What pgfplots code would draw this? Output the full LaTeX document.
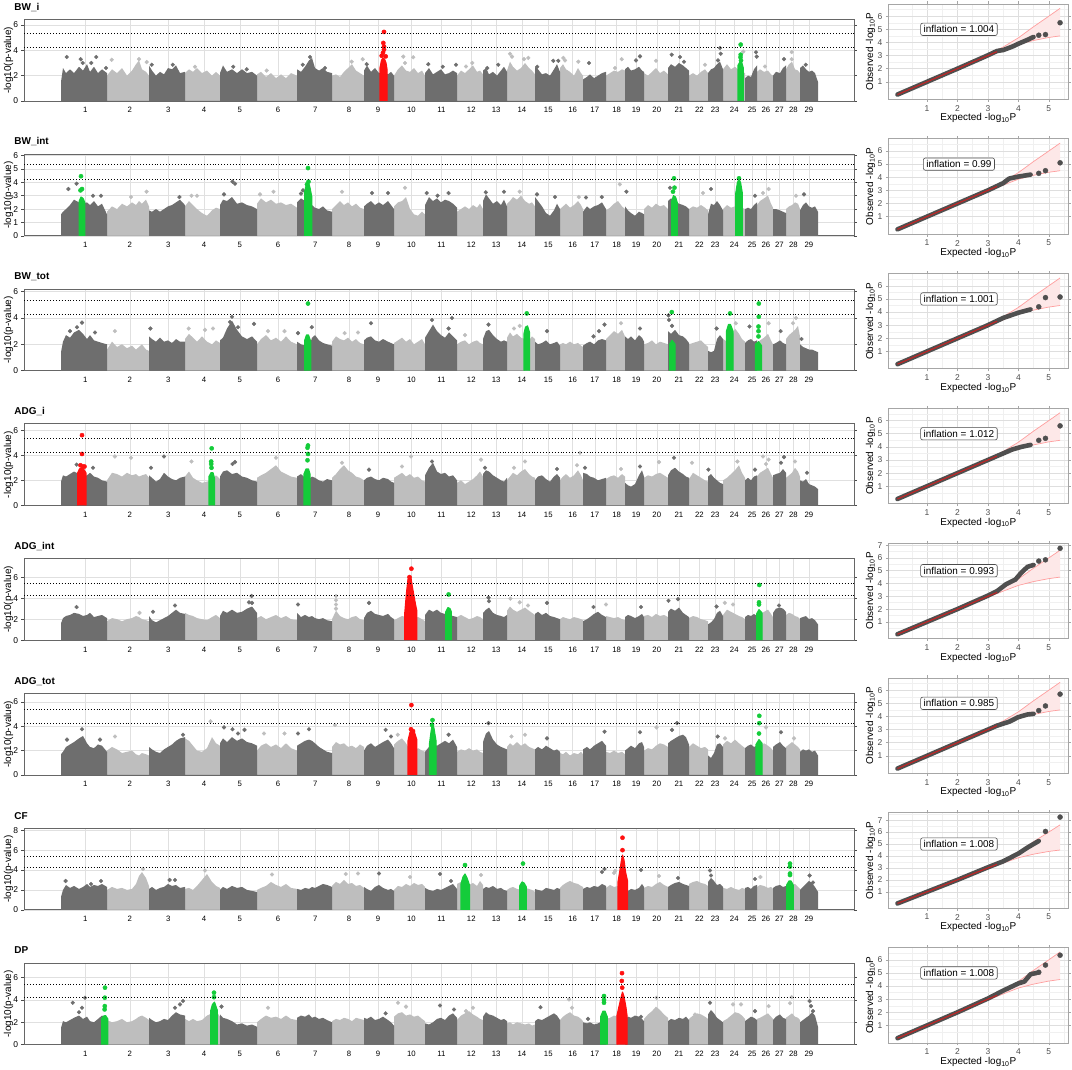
\documentclass[border=0pt]{standalone}
\usepackage{fontspec}
\setmainfont{Liberation Sans}
\usepackage{pgfplots}
\usepackage{pgfplotstable}
\pgfplotsset{compat=1.18}
\definecolor{dg}{HTML}{6E6E6E}
\definecolor{lg}{HTML}{BEBEBE}
\definecolor{hr}{HTML}{FF1010}
\definecolor{hg}{HTML}{14CC3A}
\definecolor{qpt}{HTML}{4F4F4F}
\definecolor{qred}{HTML}{C42424}
\definecolor{bandc}{HTML}{FF9E9E}
\definecolor{bandfill}{HTML}{FDE8E8}

\pgfplotstableread{
x p1 p2 p3 p4 p5 p6 p7 p8
61 0 0 0 0 0 0 0 0
61 1.5 1.6 1.4 1.9 1.6 1.7 1.3 1.5
63 2.6 1.8 2.2 2.4 2.1 1.9 2.0 2.1
66 2.2 2.0 2.7 2.3 2.3 2.3 2.5 2.0
70 2.5 2.3 2.5 2.5 2.4 2.5 2.2 2.2
74 2.2 2.7 2.9 2.7 2.6 2.7 2.4 2.4
79 2.7 2.5 3.1 2.5 2.5 3.0 2.1 2.6
83 2.4 2.4 2.8 2.3 2.3 3.2 2.3 2.3
87 2.9 2.5 2.4 2.4 2.4 2.6 2.6 2.5
90 2.3 2.3 2.7 2.6 2.6 2.3 2.3 2.1
94 2.7 2.6 2.3 2.3 2.2 2.2 2.5 2.0
98 2.2 2.2 2.2 2.2 2.3 2.5 2.4 2.3
102 2.5 2.4 2.1 2.0 2.4 2.4 2.6 2.6
107 2.2 1.6 2.0 1.9 2.1 1.9 2.3 2.4
107 0 0 0 0 0 0 0 0
149 0 0 0 0 0 0 0 0
149 2.8 1.9 2.6 2.4 2.3 2.3 2.1 2.4
152 2.4 1.8 2.4 2.2 1.9 2.1 2.3 2.2
156 2.0 2.0 2.2 1.9 1.7 1.9 2.0 2.0
160 2.3 1.8 2.5 2.1 1.9 1.8 2.2 2.1
164 2.1 2.0 2.2 2.6 2.1 2.1 2.3 2.3
168 2.6 2.2 2.3 2.3 2.3 2.3 2.6 2.2
172 2.5 2.3 2.1 2.1 2.6 2.5 2.4 2.6
176 2.8 2.5 2.4 2.0 2.9 2.8 2.5 2.9
180 2.2 2.7 2.2 2.2 2.6 3.0 2.2 2.7
185 2.3 2.3 2.2 2.3 2.5 3.1 2.3 2.6
185 0 0 0 0 0 0 0 0
220 0 0 0 0 0 0 0 0
220 2.2 2.3 2.3 2.3 2.3 2.6 2.0 2.7
223 2.8 2.7 2.5 2.7 2.8 3.0 2.3 2.4
227 2.3 2.6 3.2 2.8 2.6 2.7 2.1 2.3
232 2.5 2.9 3.8 2.5 2.9 3.1 2.4 2.1
237 2.2 2.4 3.1 2.6 2.6 2.8 2.2 1.8
242 2.5 2.5 2.6 2.3 2.7 3.0 2.3 1.9
247 2.2 2.3 2.4 2.2 3.0 2.7 2.0 1.7
252 2.3 2.2 2.6 2.0 3.2 2.6 1.9 1.8
257 2.0 2.0 2.2 1.9 2.6 2.4 1.8 1.6
257 0 0 0 0 0 0 0 0
297 0 0 0 0 0 0 0 0
297 2.5 2.5 2.2 2.3 2.6 2.4 2.1 2.4
301 2.3 2.8 2.0 2.5 2.2 2.6 2.0 2.6
305 2.7 2.6 1.9 2.2 2.4 2.8 2.2 2.5
309 3.2 2.2 1.8 2.1 2.2 2.9 2.1 2.7
312 3.4 2.3 2.5 2.3 2.3 2.8 2.3 2.4
315 2.6 2.1 2.7 2.2 2.1 2.6 2.2 2.5
319 2.4 2.0 2.3 2.0 2.0 2.3 2.4 2.3
323 2.6 2.2 2.1 1.9 2.1 2.1 2.6 2.4
327 2.3 1.9 2.0 2.1 1.9 1.9 2.5 2.2
332 2.2 1.8 1.9 2.0 1.8 1.8 2.3 2.0
332 0 0 0 0 0 0 0 0
364 0 0 0 0 0 0 0 0
364 2.4 2.2 2.3 2.0 2.1 2.0 2.3 2.4
367 2.8 2.4 2.5 2.2 2.6 2.4 2.1 2.3
371 2.3 2.6 2.6 2.3 2.8 2.6 1.9 2.5
375 2.6 2.3 2.3 2.1 2.5 2.3 2.3 2.2
379 2.2 2.5 2.2 2.0 2.4 2.5 2.5 2.3
383 2.3 2.3 2.4 2.2 2.3 2.7 2.2 2.5
388 2.1 2.6 2.2 2.1 2.5 2.9 2.0 2.2
391 2.3 2.3 2.1 1.9 2.2 2.6 2.1 2.0
394 2.0 2.0 2.0 1.8 2.0 2.2 1.9 1.7
394 0 0 0 0 0 0 0 0
425 0 0 0 0 0 0 0 0
425 2.2 2.3 2.5 2.4 2.4 1.9 2.2 1.9
429 2.6 2.9 3.0 3.0 2.9 2.3 2.0 1.8
433 2.1 2.6 3.5 3.4 2.7 2.5 1.9 2.0
437 2.3 2.8 3.0 2.7 2.9 2.4 2.1 2.3
441 2.5 2.5 2.7 2.5 2.6 2.6 2.0 2.4
445 2.1 2.7 2.5 2.6 2.5 2.8 2.2 2.2
449 2.2 2.6 2.9 2.3 2.4 2.6 2.4 2.6
453 2.4 2.4 2.6 2.4 2.3 2.9 2.6 2.8
457 2.2 2.1 2.3 2.0 2.2 2.3 2.1 2.4
457 0 0 0 0 0 0 0 0
483 0 0 0 0 0 0 0 0
483 2.4 2.6 2.4 2.5 2.6 2.7 2.1 2.5
486 2.6 3.1 3.0 2.8 2.9 3.4 2.3 2.9
489 2.1 2.8 3.1 2.7 3.1 3.6 2.2 2.7
493 2.3 2.4 2.7 2.4 2.6 2.9 2.4 2.6
497 2.0 2.6 2.4 2.2 2.4 2.5 2.1 2.4
501 2.4 2.3 2.2 2.0 2.3 2.3 2.2 2.2
504 2.7 2.7 2.3 1.9 2.2 2.2 2.0 2.3
507 2.3 2.2 2.2 2.2 2.4 2.1 1.9 2.1
507 0 0 0 0 0 0 0 0
535 0 0 0 0 0 0 0 0
535 2.7 2.9 2.2 2.0 2.5 2.1 2.1 2.1
538 2.5 2.6 2.0 2.3 2.7 2.3 2.0 2.3
542 2.1 2.2 2.1 2.4 2.4 2.1 1.9 2.2
546 2.2 1.7 2.3 2.1 2.6 2.4 2.2 2.4
550 2.0 1.5 2.0 1.9 2.3 2.2 2.1 2.6
554 2.5 1.9 2.1 2.3 2.2 2.0 2.0 2.8
557 2.9 2.4 2.2 2.5 2.1 2.1 2.2 2.6
560 2.3 2.0 1.9 2.2 2.0 1.9 2.1 2.2
560 0 0 0 0 0 0 0 0
583 0 0 0 0 0 0 0 0
583 1.7 1.8 1.9 2.6 1.8 2.1 2.1 2.0
587 1.9 2.2 2.1 2.5 2.0 2.3 2.3 1.9
590 2.1 2.0 2.2 2.3 2.2 2.1 2.2 2.0
594 1.8 2.2 2.0 2.2 2.5 2.4 2.4 1.8
598 2.0 2.3 2.3 2.0 2.7 2.6 2.3 1.9
602 2.2 2.5 2.4 2.1 2.4 2.8 2.6 2.1
606 2.3 2.0 2.3 2.2 2.2 2.4 2.4 2.2
606 0 0 0 0 0 0 0 0
625 0 0 0 0 0 0 0 0
625 2.5 2.2 2.6 1.8 2.2 2.0 2.0 2.2
628 2.7 1.9 2.4 1.6 2.4 2.2 1.9 2.5
631 2.4 1.7 2.6 1.5 2.3 2.4 2.1 2.4
635 2.5 1.5 2.3 1.7 2.1 2.2 2.0 2.6
639 2.7 1.8 2.7 2.4 2.3 2.6 2.2 2.5
642 2.4 1.7 2.5 2.8 2.5 2.7 2.6 2.3
644 2.3 1.6 2.2 2.3 2.2 2.3 2.3 2.1
644 0 0 0 0 0 0 0 0
668 0 0 0 0 0 0 0 0
668 2.6 2.6 3.0 2.4 2.7 2.6 2.3 2.1
671 2.9 2.8 2.8 2.8 3.0 2.8 2.5 2.3
675 2.7 2.6 3.1 3.0 2.8 3.0 2.7 2.2
679 3.0 2.4 2.7 2.7 3.1 3.2 2.8 2.4
683 2.8 2.3 2.6 2.5 2.6 3.3 2.6 2.3
686 2.6 2.2 2.4 2.3 2.4 3.1 2.5 2.5
689 2.4 2.0 2.1 2.2 2.2 2.5 2.4 2.2
689 0 0 0 0 0 0 0 0
708 0 0 0 0 0 0 0 0
708 2.2 1.6 1.5 2.3 1.5 1.6 2.8 2.7
711 2.5 2.4 1.4 2.5 1.7 1.4 3.2 3.1
714 2.6 2.3 1.5 2.2 2.0 1.8 2.9 2.8
717 2.9 2.6 2.4 2.0 2.6 2.5 2.5 2.4
720 3.1 2.3 2.7 1.8 2.8 2.6 2.6 2.2
723 2.5 1.9 2.4 1.7 2.3 2.3 2.3 2.0
723 0 0 0 0 0 0 0 0
745 0 0 0 0 0 0 0 0
745 1.8 2.0 2.1 2.0 2.2 2.2 2.2 2.1
748 2.0 2.1 2.3 2.2 2.4 2.4 2.3 2.3
751 1.9 2.0 2.4 2.0 2.3 2.5 2.1 2.5
754 2.5 2.3 2.2 2.3 2.5 2.3 2.4 2.4
757 2.8 2.5 2.3 2.4 2.3 2.4 2.5 2.2
757 0 0 0 0 0 0 0 0
773 0 0 0 0 0 0 0 0
773 2.0 2.0 2.0 2.4 2.6 2.3 2.2 2.2
776 2.3 2.0 2.1 2.5 3.0 2.5 2.4 2.5
780 2.2 1.9 2.3 2.6 3.1 2.7 2.5 2.7
783 2.6 1.8 2.1 2.9 3.0 2.4 2.3 2.4
786 2.8 1.7 2.0 2.6 2.7 2.2 2.4 2.3
786 0 0 0 0 0 0 0 0
800 0 0 0 0 0 0 0 0
800 2.6 1.9 2.0 2.0 2.1 1.9 2.0 2.0
803 2.8 2.3 1.8 1.9 2.2 2.1 2.3 2.2
806 2.5 2.5 1.7 2.1 2.3 2.0 2.6 2.4
809 2.3 2.2 1.6 1.7 2.0 2.1 2.9 2.6
812 2.4 2.1 1.6 1.6 2.1 1.9 2.7 2.9
815 2.2 2.2 1.5 1.5 1.9 2.0 2.3 2.6
818 1.5 1.8 1.4 1.3 1.5 1.6 1.8 1.6
818 0 0 0 0 0 0 0 0
}\dark

\pgfplotstableread{
x p1 p2 p3 p4 p5 p6 p7 p8
107 0 0 0 0 0 0 0 0
107 2.0 1.8 1.6 2.0 1.8 2.0 2.0 2.2
112 2.5 2.2 2.2 2.6 2.1 2.3 2.3 2.0
117 2.2 2.0 1.8 2.5 2.0 2.1 2.1 2.1
122 2.6 2.4 2.0 2.3 1.8 1.8 2.2 2.3
127 2.0 2.2 1.7 2.6 2.0 1.9 2.0 2.0
132 2.4 2.5 1.9 2.4 2.1 2.0 2.1 2.1
136 2.9 2.3 1.6 2.5 2.3 1.7 2.6 2.3
139 3.2 2.6 1.8 2.3 2.2 1.6 3.4 2.5
142 2.5 2.4 2.0 2.4 2.0 1.8 3.8 2.6
146 2.3 2.7 1.6 2.5 1.9 1.7 3.2 2.4
149 2.0 2.2 1.5 2.2 1.8 1.6 2.4 2.2
149 0 0 0 0 0 0 0 0
185 0 0 0 0 0 0 0 0
185 2.2 2.2 2.4 2.3 2.6 3.0 2.1 2.3
189 2.5 2.6 2.8 2.7 2.4 2.8 2.2 2.1
193 2.3 2.3 2.5 2.2 2.3 2.4 2.0 2.3
197 2.6 2.0 2.2 2.0 2.1 2.0 2.4 2.1
202 2.2 1.7 2.6 1.8 2.0 1.9 3.0 2.2
207 2.4 1.5 2.2 1.9 1.9 2.2 3.6 2.6
212 2.0 1.9 2.0 2.0 2.2 3.1 2.8 2.8
216 2.3 2.1 2.3 2.4 2.4 2.6 2.4 3.0
220 2.0 2.0 2.1 2.1 2.1 2.4 2.2 2.5
220 0 0 0 0 0 0 0 0
257 0 0 0 0 0 0 0 0
257 2.1 2.4 2.0 2.2 2.1 2.0 2.0 2.0
261 2.3 2.8 2.4 2.4 2.3 2.4 2.2 2.3
266 1.9 2.5 2.7 2.6 2.0 2.6 2.4 2.6
271 2.2 2.7 2.3 2.9 2.2 2.3 2.8 2.4
276 1.8 2.4 2.5 3.2 2.4 2.5 2.5 2.5
281 2.1 2.5 2.2 2.7 2.1 2.2 2.3 2.3
286 1.8 2.3 2.6 2.5 2.3 2.6 2.6 2.6
291 2.2 2.4 2.2 2.3 2.0 2.2 2.2 2.3
297 2.0 2.1 2.0 2.2 1.9 2.0 2.1 2.2
297 0 0 0 0 0 0 0 0
332 0 0 0 0 0 0 0 0
332 2.0 2.0 2.2 2.2 2.0 2.3 2.4 2.1
336 2.1 2.3 2.6 2.5 2.8 2.7 2.8 2.3
340 1.9 2.6 2.4 2.9 2.3 2.5 2.6 2.2
344 2.3 2.3 2.3 3.2 2.1 2.6 3.0 2.4
348 2.6 2.5 2.5 2.8 2.0 2.3 2.6 2.3
352 2.9 2.2 2.2 2.6 2.2 2.4 2.7 2.1
356 2.4 2.4 2.4 2.3 2.3 2.2 2.4 2.4
360 2.2 2.1 2.1 2.2 2.0 2.5 2.5 2.3
364 2.0 2.0 2.0 2.0 1.9 2.3 2.2 2.2
364 0 0 0 0 0 0 0 0
394 0 0 0 0 0 0 0 0
394 2.0 2.2 2.1 2.2 1.9 2.5 2.0 2.5
398 2.5 2.5 2.3 2.4 2.1 2.8 2.4 2.8
402 2.8 2.6 2.5 2.6 2.3 3.0 2.3 2.9
406 2.4 2.9 2.2 2.3 2.2 2.6 2.6 2.6
410 2.3 2.0 2.4 2.5 2.0 2.0 2.4 2.7
414 2.6 1.6 2.0 2.2 2.1 1.9 2.7 2.5
418 2.2 1.5 2.2 2.3 2.2 2.2 2.5 2.6
422 2.4 1.8 2.4 2.0 2.0 2.0 2.6 2.3
425 2.0 1.6 2.0 1.9 1.8 1.9 2.3 2.1
425 0 0 0 0 0 0 0 0
457 0 0 0 0 0 0 0 0
457 2.0 1.8 2.0 1.8 2.2 1.9 2.6 2.2
461 2.4 2.0 2.2 2.0 2.4 2.1 2.8 2.6
465 2.2 2.2 2.3 1.7 2.2 2.0 2.7 2.8
469 2.5 2.0 2.0 1.9 2.0 2.2 2.5 3.0
473 2.8 2.3 2.2 2.1 2.1 2.0 2.7 2.7
477 2.3 2.1 2.3 2.4 2.3 2.1 2.4 2.5
480 2.4 2.4 2.1 2.7 2.2 1.9 2.9 2.3
483 2.1 2.0 2.0 2.3 2.0 1.8 2.5 2.2
483 0 0 0 0 0 0 0 0
507 0 0 0 0 0 0 0 0
507 2.4 2.4 2.5 2.0 2.8 2.3 2.0 1.9
510 3.1 2.6 2.9 2.3 3.2 2.6 2.2 2.0
513 2.7 2.9 2.6 2.6 2.9 2.4 2.3 1.8
517 2.4 2.7 2.8 2.4 2.7 2.7 2.1 2.0
521 2.6 3.0 2.5 2.7 2.9 2.4 2.0 1.9
525 3.0 2.6 2.4 2.9 3.1 2.6 2.2 1.8
529 2.6 2.4 2.3 2.5 2.8 2.3 2.1 1.9
532 2.4 2.5 2.6 2.3 2.6 2.2 2.0 1.7
535 2.1 2.2 2.4 2.2 2.4 2.1 1.8 1.8
535 0 0 0 0 0 0 0 0
560 0 0 0 0 0 0 0 0
560 2.6 2.0 2.0 2.0 2.0 1.8 2.2 2.2
563 2.9 2.2 2.1 2.3 2.2 1.7 2.5 2.5
566 2.5 2.4 2.0 2.5 2.1 1.9 2.7 2.7
570 2.3 2.1 2.2 2.2 2.0 1.6 2.9 2.9
574 2.0 2.3 2.0 2.4 2.2 1.8 2.7 2.6
578 2.6 2.6 2.1 2.8 2.1 1.7 2.6 2.5
581 2.2 2.3 1.9 2.4 2.0 1.9 2.4 2.3
583 2.0 2.0 1.8 2.0 1.9 1.7 2.3 2.1
583 0 0 0 0 0 0 0 0
606 0 0 0 0 0 0 0 0
606 2.0 1.9 2.4 2.1 2.3 1.9 2.2 2.3
610 2.2 2.1 2.7 2.3 2.2 1.8 2.5 2.4
614 2.4 2.4 3.0 2.4 2.1 2.0 2.3 2.6
618 2.3 2.6 2.8 2.2 2.2 1.8 2.4 2.5
622 2.5 2.2 3.1 2.5 2.0 1.9 2.5 2.4
625 2.4 2.0 2.6 2.3 1.9 1.7 2.4 2.3
625 0 0 0 0 0 0 0 0
644 0 0 0 0 0 0 0 0
644 2.2 2.0 2.0 2.2 2.3 2.0 2.2 2.3
648 2.0 2.3 2.1 2.4 2.4 2.2 2.4 2.7
652 2.3 2.1 2.3 2.3 2.2 2.1 2.3 3.0
656 2.6 2.4 2.0 2.5 2.5 2.4 2.6 3.4
660 2.2 2.2 2.2 2.6 2.3 2.6 2.8 3.1
664 2.4 2.3 2.1 2.4 2.4 2.5 2.5 2.7
668 2.1 2.0 2.0 2.2 2.2 2.3 2.3 2.4
668 0 0 0 0 0 0 0 0
689 0 0 0 0 0 0 0 0
689 2.0 2.0 2.0 2.1 2.1 2.3 2.6 2.3
693 2.2 2.2 2.1 2.6 2.3 2.6 2.8 2.6
697 2.0 2.1 2.2 2.4 2.2 2.4 2.9 2.8
701 2.3 2.3 2.3 2.2 2.0 2.2 2.7 2.7
705 2.5 2.1 2.0 2.0 1.9 2.3 2.6 2.5
708 2.2 1.9 1.8 1.9 1.8 2.1 2.4 2.3
708 0 0 0 0 0 0 0 0
723 0 0 0 0 0 0 0 0
723 2.5 2.0 2.4 2.0 2.4 2.5 2.2 2.1
727 2.9 2.3 2.2 2.2 2.9 2.8 2.1 2.3
731 2.5 2.1 2.3 2.5 2.7 2.6 2.3 2.6
735 2.7 2.2 3.2 2.8 2.5 2.9 2.1 2.9
739 2.4 2.4 2.8 3.2 2.3 2.6 2.0 2.8
742 2.3 2.1 2.4 2.6 2.2 2.4 2.2 2.6
745 2.2 2.0 2.2 2.2 2.0 2.2 2.1 2.3
745 0 0 0 0 0 0 0 0
757 0 0 0 0 0 0 0 0
757 2.3 2.3 2.0 2.3 2.2 2.2 2.3 2.3
760 2.5 2.6 2.3 2.6 2.4 2.3 2.5 2.4
764 2.3 2.8 2.5 2.8 2.7 2.6 2.4 2.6
768 2.4 3.0 2.8 3.0 2.9 2.4 2.2 2.8
771 2.1 2.4 2.3 2.5 2.5 2.2 2.3 2.5
773 2.0 2.1 2.0 2.2 2.2 2.0 2.1 2.3
773 0 0 0 0 0 0 0 0
786 0 0 0 0 0 0 0 0
786 2.5 2.0 2.4 2.2 2.4 2.3 2.3 2.4
789 2.9 2.2 2.7 2.4 2.6 2.5 2.4 2.6
792 3.1 2.3 2.9 2.6 2.5 2.7 2.5 2.8
795 2.5 2.5 3.1 3.0 2.3 2.5 2.6 2.5
798 2.4 2.4 3.4 2.7 2.2 2.3 2.3 2.4
800 2.2 2.0 2.6 2.3 2.0 2.1 2.1 2.2
800 0 0 0 0 0 0 0 0
}\light

\pgfplotstableread{
x y
0 0
1 1
2 2.02
3 3.08
3.5 3.65
4 4.35
4.5 5.2
5 6.0
5.37 6.6
5.37 4.5
5 4.38
4.5 4.15
4 3.85
3.5 3.4
3 2.92
2 1.98
1 1
}\bandpoly

\pgfplotstableread{
x up lo
0 0 0
1 1 1
2 2.02 1.98
3 3.08 2.92
3.5 3.65 3.4
4 4.35 3.85
4.5 5.2 4.15
5 6.0 4.38
5.37 6.6 4.5
}\bandlines

\pgfplotsset{
  manh/.style={
    scale only axis, width=830bp, height=81.5bp, anchor=south west,
    xmin=24, xmax=854, ymin=0, clip mode=individual,
    xtick={85.3,129.8,168.3,204,239.8,278,315.3,349,378,411.4,441.5,471.3,496.2,522,548.3,572.7,594.8,616.6,636.2,656.8,679,699.4,715.2,734.3,752.2,766,779.5,793.5,809},
    xticklabels={1,2,3,4,5,6,7,8,9,10,11,12,13,14,15,16,17,18,19,20,21,22,23,24,25,26,27,28,29},
    xtick style={draw=none},
    xticklabel style={font=\fontsize{7.8}{8}\selectfont, yshift=-0.5bp},
    yticklabel style={font=\fontsize{8.5}{9}\selectfont},
    tick align=outside, major tick length=2.5bp,
    ytick style={color=black!70, line width=0.5bp},
    grid=major, major grid style={color=black!12, line width=0.5bp},
    axis line style={color=black!60, line width=0.9bp},
    ylabel={-log10(p-value)},
    ylabel style={at={(axis description cs:-0.0187,0.5)}, anchor=center, font=\fontsize{10}{11}\selectfont},
    /pgf/number format/assume math mode=true,
  },
  qq/.style={
    scale only axis, width=180bp, height=95.3bp, anchor=south west,
    xmin=-0.27, xmax=5.64, clip mode=individual,
    xtick={1,2,3,4,5}, ytick={1,2,3,4,5,6,7},
    minor xtick={0.5,1.5,2.5,3.5,4.5,5.5}, minor ytick={0.5,1.5,2.5,3.5,4.5,5.5,6.5,7.5},
    grid=both, major grid style={color=black!13, line width=0.5bp},
    minor grid style={color=black!6, line width=0.4bp},
    axis line style={color=black!35, line width=0.8bp},
    tick align=outside, major tick length=2.5bp, minor tick length=0bp,
    tick style={color=black!35, line width=0.5bp},
    ticklabel style={font=\fontsize{8.5}{9}\selectfont, color=black!70},
    xlabel={Expected -log\textsubscript{10}P}, ylabel={Observed -log\textsubscript{10}P},
    label style={font=\fontsize{10}{11}\selectfont},
    xlabel style={at={(axis description cs:0.5,-0.2)}, anchor=center},
    ylabel style={at={(axis description cs:-0.098,0.5)}, anchor=center},
    /pgf/number format/assume math mode=true,
  },
  dk/.style={only marks, mark=*, mark size=1.9bp, color=dg},
  lt/.style={only marks, mark=*, mark size=1.9bp, color=lg},
  rd/.style={only marks, mark=*, mark size=2.1bp, color=hr},
  gn/.style={only marks, mark=*, mark size=2.1bp, color=hg},
  rdp/.style={fill=hr, draw=hr, line width=1.2bp, line join=round},
  gnp/.style={fill=hg, draw=hg, line width=1.2bp, line join=round},
  thr/.style={color=black, line width=0.8bp, dash pattern=on 0.9bp off 2bp},
  qline/.style={color=qpt, line width=4.6bp, line cap=round, line join=round},
  qpts/.style={only marks, mark=*, mark size=2.5bp, color=qpt},
  qr/.style={color=qred, line width=1.1bp},
}
\newcommand{\mtitle}[1]{\node[anchor=base west, font=\bfseries\fontsize{10}{12}\selectfont] at (axis description cs:-0.0157,1.114) {#1};}
\newcommand{\bands}{%
  \addplot[fill=bandfill, draw=none] table[x=x,y=y]{\bandpoly};
  \addplot[color=bandc, line width=0.7bp] table[x=x,y=up]{\bandlines};
  \addplot[color=bandc, line width=0.7bp] table[x=x,y=lo]{\bandlines};}
\newcommand{\infl}[1]{\node[draw=black!70, fill=white, rounded corners=2bp, inner xsep=3bp, inner ysep=2.5bp, line width=0.6bp, font=\fontsize{10}{11}\selectfont] at (axis cs:2.05,5) {#1};}
\newcommand{\thresh}{%
  \addplot[thr] coordinates {(24,5.36) (854,5.36)};
  \addplot[thr] coordinates {(24,4.24) (854,4.24)};}

\begin{document}
\begin{tikzpicture}
\useasboundingbox (0bp,0bp) rectangle (1072bp,1070bp);

% ---------------- Panel 1: BW_i
\begin{axis}[manh, at={(24bp,969bp)}, ymax=6.43, ytick={0,2,4,6}]
\addplot[fill=lg, draw=none] table[x=x,y=p1]{\light};
\addplot[fill=dg, draw=none] table[x=x,y=p1]{\dark};
\addplot[dk] coordinates {(66.7,3.47)(80.7,3.3)(82.7,3.0)(91.3,3.0)(96.3,3.47)(106,2.6)(151.7,2.86)(172.7,2.86)(233.3,2.7)(246.7,2.5)(302.7,2.86)(310,3.47)(325,2.6)(366.7,2.9)(428.3,2.9)(442.7,2.7)(456,2.86)(487.3,2.6)(498.3,2.86)(537.3,2.7)(553.3,3.17)(558.3,3.17)(589,3.0)(640,3.52)(636,3.2)(671.7,3.65)(680,3.47)(684,3.1)(720,4.18)(720.7,3.73)(718,3.2)(756,3.84)(756.7,3.5)(784,3.3)(805.7,2.86)};
\addplot[lt] coordinates {(111.7,3.25)(139,3.3)(146.7,3.07)(195,2.7)(266.7,2.4)(351.7,3.1)(362.7,3.3)(403.3,3.5)(405,3.0)(413.3,3.45)(466,2.72)(472.3,3.0)(510,3.73)(512,3.5)(524,3.3)(528.3,3.4)(563.3,3.4)(565,3.2)(578.3,3.1)(615,2.6)(621.7,3.3)(656,3.17)(705,2.86)(743.3,3.9)(765,2.72)(791.7,3.86)(791.7,3.3)};
\addplot[rdp] coordinates {(380,0)(380,2.6)(381.5,3.2)(383,3.4)(384.5,3.3)(386,3.0)(387,2.5)(387,0)};
\addplot[rd] coordinates {(384,5.45)(383.3,4.58)(384,4.3)(384,4.05)(381.7,3.57)(385.7,3.52)(383,3.8)};
\addplot[gnp] coordinates {(738,0)(738,2.8)(740,3.1)(741.5,3.1)(743.3,2.6)(743.3,0)};
\addplot[gn] coordinates {(740.7,4.45)(740.7,3.65)(740.5,3.45)(741,3.2)};
\thresh
\mtitle{BW\_i}
\end{axis}
\begin{axis}[qq, at={(888.3bp,970.7bp)}, ymin=-0.33, ymax=6.93]
\bands
\addplot[qline] coordinates {(0.03,0.03)(1,1)(2,2)(3,3.02)(3.3,3.35)(3.5,3.42)(3.8,3.68)(4.0,3.9)(4.3,4.2)(4.5,4.42)};
\addplot[qpts] coordinates {(4.67,4.55)(4.89,4.6)(5.37,5.5)};
\addplot[qr] coordinates {(0.03,0.03)(3.3,3.3)};
\infl{inflation = 1.004}
\end{axis}

% ---------------- Panel 2: BW_int
\begin{axis}[manh, at={(24bp,834.2bp)}, ymax=6.1, ytick={0,1,2,3,4,5,6}]
\addplot[fill=lg, draw=none] table[x=x,y=p2]{\light};
\addplot[fill=dg, draw=none] table[x=x,y=p2]{\dark};
\addplot[dk] coordinates {(68.4,3.5)(76.6,3.9)(93,3.0)(101,3.0)(179.4,2.9)(224,3.1)(232.5,4.05)(235,3.9)(301,3.16)(303,3.4)(372,3.2)(388,3.2)(426.7,3.2)(437.6,3.0)(448.6,3.2)(485.8,3.25)(504,3.3)(537,3.1)(555,2.9)(586,2.87)(601.8,2.9)(626.4,3.3)(670,3.6)(711,3.5)(755,3.0)(804,3.1)};
\addplot[lt] coordinates {(131,2.9)(146.6,3.3)(191.5,3.0)(197,3.0)(260,3.1)(273.5,3.3)(342,3.3)(405,3.6)(519.7,3.3)(578.8,2.9)(619.8,3.85)(703,3.2)(763,3.2)(768.6,3.5)(796,3.0)};
\addplot[gnp] coordinates {(79.3,0)(79.3,2.6)(81,2.9)(83,2.8)(84.8,2.5)(84.8,0)};
\addplot[gnp] coordinates {(304.7,0)(304.7,3.3)(306.5,3.9)(308.5,4.0)(310,3.6)(311.8,2.9)(311.8,0)};
\addplot[gnp] coordinates {(671.8,0)(671.8,2.6)(673.5,3.0)(675.5,2.9)(677.2,2.5)(677.2,0)};
\addplot[gnp] coordinates {(735.8,0)(735.8,3.2)(737.5,4.0)(739,4.2)(740.5,4.0)(742.3,3.2)(742.3,0)};
\addplot[gn] coordinates {(81,4.46)(82,3.5)(80.5,3.4)(308,5.07)(308.5,4.05)(307,3.85)(674,4.3)(674.5,3.6)(673,3.3)(739,4.3)(739,3.35)(739,3.1)};
\thresh
\mtitle{BW\_int}
\end{axis}
\begin{axis}[qq, at={(888.3bp,835.9bp)}, ymin=-0.33, ymax=6.93]
\bands
\addplot[qline] coordinates {(0.03,0.03)(1,1)(2,2)(3,3)(3.5,3.55)(3.7,3.9)(4.0,4.05)(4.4,4.2)};
\addplot[qpts] coordinates {(4.67,4.3)(4.89,4.5)(5.37,5.1)};
\addplot[qr] coordinates {(0.03,0.03)(3.3,3.3)};
\infl{inflation = 0.99}
\end{axis}

% ---------------- Panel 3: BW_tot
\begin{axis}[manh, at={(24bp,699.4bp)}, ymax=6.2, ytick={0,2,4,6}]
\addplot[fill=lg, draw=none] table[x=x,y=p3]{\light};
\addplot[fill=dg, draw=none] table[x=x,y=p3]{\dark};
\addplot[dk] coordinates {(70,3.0)(77,3.3)(82,3.65)(95,2.9)(150.4,3.2)(230,3.7)(232,4.1)(238,3.3)(254,3.55)(298,2.85)(311.8,3.3)(371,3.6)(432,3.85)(448.6,3.2)(452,4.0)(488.5,3.5)(547,3.0)(593.5,2.6)(599,3.0)(604.5,3.5)(640,3.2)(668.5,4.2)(669,3.85)(672,3.4)(716.6,3.2)(749.5,3.35)(780.6,3.0)(801.5,2.4)};
\addplot[lt] coordinates {(114.9,3.0)(188.7,3.2)(205,3.1)(213,3.2)(268,3.0)(284.5,3.0)(344.6,2.85)(358,2.9)(465,2.7)(514,3.2)(519.7,3.4)(621,3.6)(735.8,3.6)(768.6,3.6)(793,3.6)(796,4.0)};
\addplot[gnp] coordinates {(304.7,0)(304.7,2.3)(306.5,2.7)(308.5,2.7)(310.7,2.2)(310.7,0)};
\addplot[gnp] coordinates {(524,0)(524,2.8)(525.5,3.3)(527.5,3.4)(529.5,2.9)(529.5,0)};
\addplot[gnp] coordinates {(669.6,0)(669.6,2.0)(672,2.3)(675.1,2.0)(675.1,0)};
\addplot[gnp] coordinates {(726.5,0)(726.5,3.0)(728.5,3.5)(730.5,3.5)(733,3.0)(733,0)};
\addplot[gnp] coordinates {(755.5,0)(755.5,2.0)(758.5,2.2)(761.5,1.9)(761.5,0)};
\addplot[gn] coordinates {(308,5.1)(526.8,4.35)(671.8,4.45)(730,4.35)(758.8,5.1)(758.8,4.1)(758.5,3.35)(758.5,3.0)(758.5,2.6)};
\thresh
\mtitle{BW\_tot}
\end{axis}
\begin{axis}[qq, at={(888.3bp,701.1bp)}, ymin=-0.33, ymax=6.93]
\bands
\addplot[qline] coordinates {(0.03,0.03)(1,1)(2,2)(3,3)(3.5,3.55)(4,3.95)(4.4,4.2)};
\addplot[qpts] coordinates {(4.67,4.4)(4.89,5.1)(5.37,5.15)};
\addplot[qr] coordinates {(0.03,0.03)(3.3,3.3)};
\infl{inflation = 1.001}
\end{axis}

% ---------------- Panel 4: ADG_i
\begin{axis}[manh, at={(24bp,564.6bp)}, ymax=6.5, ytick={0,2,4,6}]
\addplot[fill=lg, draw=none] table[x=x,y=p4]{\light};
\addplot[fill=dg, draw=none] table[x=x,y=p4]{\dark};
\addplot[dk] coordinates {(76.6,3.25)(93,3.0)(151,3.0)(164,3.9)(232.5,3.3)(235,3.45)(369,2.85)(432,3.5)(485,3.0)(557,2.9)(585,3.0)(640,3.1)(674,3.8)(708.4,2.85)(755,2.85)(781,3.4)(784,3.85)(807,2.6)};
\addplot[lt] coordinates {(114.9,3.9)(131,3.8)(191.5,3.5)(276,3.8)(342,3.4)(402,3.1)(411,3.9)(481,3.65)(514,3.0)(525,3.5)(577,3.2)(580,4.2)(621,2.9)(659,3.45)(692,3.4)(737.4,3.5)(763,3.9)(766,3.3)(768.6,3.65)(795,3.5)};
\addplot[rdp] coordinates {(77.7,0)(77.7,2.6)(79.5,2.9)(81.5,3.0)(83.5,2.9)(85.9,2.6)(85.9,0)};
\addplot[rd] coordinates {(82,5.6)(82,4.1)(80.5,3.2)(83,3.1)(84.5,3.1)};
\addplot[gnp] coordinates {(209,0)(209,2.3)(211,2.6)(213,2.6)(214.4,2.2)(214.4,0)};
\addplot[gnp] coordinates {(304,0)(304,2.5)(306,2.9)(308.5,2.9)(310,2.5)(310,0)};
\addplot[gn] coordinates {(211.7,4.55)(211.2,3.5)(211.2,3.3)(211.5,3.0)(308,4.78)(307.5,4.6)(308,4.1)(307.5,3.6)};
\thresh
\mtitle{ADG\_i}
\end{axis}
\begin{axis}[qq, at={(888.3bp,566.3bp)}, ymin=-0.33, ymax=6.93]
\bands
\addplot[qline] coordinates {(0.03,0.03)(1,1)(2,2)(3,3)(3.5,3.5)(3.8,3.8)(4.1,4.0)(4.4,4.15)};
\addplot[qpts] coordinates {(4.67,4.5)(4.89,4.65)(5.37,5.6)};
\addplot[qr] coordinates {(0.03,0.03)(3.3,3.3)};
\infl{inflation = 1.012}
\end{axis}

% ---------------- Panel 5: ADG_int
\begin{axis}[manh, at={(24bp,429.8bp)}, ymax=7.75, ytick={0,2,4,6}]
\addplot[fill=lg, draw=none] table[x=x,y=p5]{\light};
\addplot[fill=dg, draw=none] table[x=x,y=p5]{\dark};
\addplot[dk] coordinates {(76.6,3.15)(153,2.7)(175,3.3)(249,3.6)(251.6,4.2)(252,3.55)(298,3.4)(369,3.55)(488.5,4.05)(489,3.7)(547,3.55)(593.5,3.15)(641,3.15)(668.5,3.75)(678,3.9)(716.6,3.2)(779,3.3)};
\addplot[lt] coordinates {(139.5,2.6)(336,4.2)(336,3.8)(336,3.4)(336,3.0)(510.4,3.95)(519.7,3.6)(528,3.3)(606,3.4)(724.8,3.55)(733,3.4)};
\addplot[rdp] coordinates {(404.8,0)(404.8,2.6)(406.5,4.5)(408,5.8)(409.5,6.0)(411,5.9)(412.5,5.0)(414,4.2)(415.5,3.4)(416.8,2.8)(416.8,0)};
\addplot[rd] coordinates {(411.4,6.8)(409.5,6.0)};
\addplot[gnp] coordinates {(445.8,0)(445.8,2.7)(448,3.1)(450,3.0)(451.3,2.7)(451.3,0)};
\addplot[gnp] coordinates {(756.6,0)(756.6,2.5)(759,2.9)(762,2.6)(762,0)};
\addplot[gn] coordinates {(448.6,4.35)(759.3,5.25)(759,3.6)(759,3.4)};
\thresh
\mtitle{ADG\_int}
\end{axis}
\begin{axis}[qq, at={(888.3bp,431.5bp)}, ymin=-0.3, ymax=7.15]
\bands
\addplot[qline] coordinates {(0.03,0.03)(1,1)(2,2)(3,3.05)(3.3,3.4)(3.6,3.95)(3.9,4.3)(4.1,4.85)(4.3,5.3)(4.5,5.45)};
\addplot[qpts] coordinates {(4.67,5.75)(4.89,5.85)(5.37,6.75)};
\addplot[qr] coordinates {(0.03,0.03)(3.3,3.3)};
\infl{inflation = 0.993}
\end{axis}

% ---------------- Panel 6: ADG_tot
\begin{axis}[manh, at={(24bp,295bp)}, ymax=6.68, ytick={0,2,4,6}]
\addplot[fill=lg, draw=none] table[x=x,y=p6]{\light};
\addplot[fill=dg, draw=none] table[x=x,y=p6]{\dark};
\addplot[dk] coordinates {(67,2.9)(82,3.75)(100,2.9)(183,3.3)(224,3.9)(232.5,3.75)(238,3.4)(244.5,3.7)(298,3.4)(309,3.75)(385.6,3.7)(391,3.15)(448.6,3.3)(488.5,4.25)(547,3.0)(604.5,3.55)(640,3.5)(672,3.7)(677,4.25)(717.7,3.15)(781,3.5)};
\addplot[lt] coordinates {(115,3.15)(210.6,4.4)(264,3.4)(284.5,3.4)(335,4.1)(397.7,3.3)(511.5,3.15)(525,3.3)(656.5,3.9)(725,3.0)(766,3.9)(794,3.0)};
\addplot[rdp] coordinates {(408,0)(408,2.8)(410,3.5)(412,3.7)(414,3.6)(416.8,2.9)(416.8,0)};
\addplot[rd] coordinates {(411.4,5.73)(411,3.75)(413,3.6)};
\addplot[gnp] coordinates {(429.4,0)(429.4,2.5)(431,3.5)(432.5,4.3)(434,3.8)(436,2.8)(436,0)};
\addplot[gnp] coordinates {(756,0)(756,2.5)(759,2.9)(762,2.6)(762,0)};
\addplot[gn] coordinates {(432.5,4.5)(432,4.1)(759.3,4.85)(759.3,4.25)(759,3.4)};
\thresh
\mtitle{ADG\_tot}
\end{axis}
\begin{axis}[qq, at={(888.3bp,296.7bp)}, ymin=-0.33, ymax=6.93]
\bands
\addplot[qline] coordinates {(0.03,0.03)(1,1)(2,2)(3,3)(3.3,3.3)(3.7,3.6)(4.0,3.95)(4.3,4.15)(4.5,4.2)};
\addplot[qpts] coordinates {(4.67,4.45)(4.89,4.8)(5.37,5.7)};
\addplot[qr] coordinates {(0.03,0.03)(3.3,3.3)};
\infl{inflation = 0.985}
\end{axis}

% ---------------- Panel 7: CF
\begin{axis}[manh, at={(24bp,160.2bp)}, ymax=8.2, ytick={0,2,4,6,8}]
\addplot[fill=lg, draw=none] table[x=x,y=p7]{\light};
\addplot[fill=dg, draw=none] table[x=x,y=p7]{\dark};
\addplot[dk] coordinates {(65.6,2.9)(91,2.6)(101,2.9)(169.6,3.0)(175,3.0)(379,3.65)(440,3.6)(451,2.9)(602,3.8)(604.5,4.1)(641,4.0)(678,3.2)(710,3.95)(711,3.45)(755,3.1)(809.6,3.45)(813,2.75)};
\addplot[lt] coordinates {(143,4.1)(205,3.95)(272,3.55)(345.7,3.6)(358,3.65)(410,3.3)(481,3.5)(614,3.7)(615,3.9)(659,3.4)(760.4,3.3)};
\addplot[rdp] coordinates {(618,0)(618,2.8)(620,4.0)(621.5,5.0)(622.5,5.5)(624,5.0)(625.5,3.8)(627.5,2.9)(627.5,0)};
\addplot[rd] coordinates {(622.5,7.25)(622.5,6.0)};
\addplot[gnp] coordinates {(461,0)(461,2.6)(463,3.3)(465,3.6)(467,3.2)(469.4,2.5)(469.4,0)};
\addplot[gnp] coordinates {(519.7,0)(519.7,2.4)(522,2.8)(524,2.7)(526.3,2.3)(526.3,0)};
\addplot[gnp] coordinates {(786.7,0)(786.7,2.5)(789,2.9)(791,2.9)(793.2,2.5)(793.2,0)};
\addplot[gn] coordinates {(465,4.5)(523,4.65)(790,4.65)(790,4.35)(790,3.65)(790,3.5)};
\thresh
\mtitle{CF}
\end{axis}
\begin{axis}[qq, at={(888.3bp,161.9bp)}, ymin=-0.36, ymax=7.61]
\bands
\addplot[qline] coordinates {(0.03,0.03)(1,1)(2,2)(3,3.05)(3.5,3.55)(4,4.2)(4.3,4.7)(4.5,5.0)(4.67,5.25)};
\addplot[qpts] coordinates {(4.89,6.05)(5.37,7.25)};
\addplot[qr] coordinates {(0.03,0.03)(3.3,3.3)};
\infl{inflation = 1.008}
\end{axis}

% ---------------- Panel 8: DP
\begin{axis}[manh, at={(24bp,25.4bp)}, ymax=7.3, ytick={0,2,4,6}]
\addplot[fill=lg, draw=none] table[x=x,y=p8]{\light};
\addplot[fill=dg, draw=none] table[x=x,y=p8]{\dark};
\addplot[dk] coordinates {(72.8,3.75)(79,2.9)(82,3.3)(85,4.2)(175,3.3)(180,3.6)(183,3.9)(221.5,3.4)(385.6,2.8)(440,3.5)(454,3.15)(540.5,3.35)(588,2.3)(641,2.5)(710,3.75)(755,3.0)(809.6,3.9)(811,3.45)(813,3.0)};
\addplot[lt] coordinates {(268,3.3)(398,3.75)(406,3.4)(466,3.0)(473,3.3)(569,4.05)(572,3.3)(656.5,4.2)(695,2.7)(733,3.6)(741,3.6)(768.6,3.45)(790,3.7)(791.6,4.25)};
\addplot[gnp] coordinates {(101.7,0)(101.7,2.3)(103.5,2.55)(105.5,2.6)(107.8,2.3)(107.8,0)};
\addplot[gnp] coordinates {(210.6,0)(210.6,3.0)(212.5,3.6)(214.5,3.8)(217.2,3.1)(217.2,0)};
\addplot[gnp] coordinates {(600.7,0)(600.7,2.5)(603,3.0)(605,3.0)(607.2,2.5)(607.2,0)};
\addplot[rdp] coordinates {(617,0)(617,2.6)(619,3.4)(621,4.2)(622.5,4.7)(624,4.3)(626,3.3)(627,2.6)(627,0)};
\addplot[gn] coordinates {(105,5.1)(104.8,4.2)(104.8,3.45)(104.6,3.15)(214,4.65)(214,4.25)(604,4.35)(604,4.0)(604,3.75)};
\addplot[rd] coordinates {(622,6.4)(621.8,5.7)(622.2,5.1)};
\thresh
\mtitle{DP}
\end{axis}
\begin{axis}[qq, at={(888.3bp,27.1bp)}, ymin=-0.33, ymax=6.93]
\bands
\addplot[qline] coordinates {(0.03,0.03)(1,1)(2,2)(3,3.05)(3.5,3.65)(4.0,4.2)(4.2,4.35)(4.4,4.9)(4.6,5.0)};
\addplot[qpts] coordinates {(4.67,5.05)(4.89,5.6)(5.37,6.35)};
\addplot[qr] coordinates {(0.03,0.03)(3.3,3.3)};
\infl{inflation = 1.008}
\end{axis}

\end{tikzpicture}
\end{document}
